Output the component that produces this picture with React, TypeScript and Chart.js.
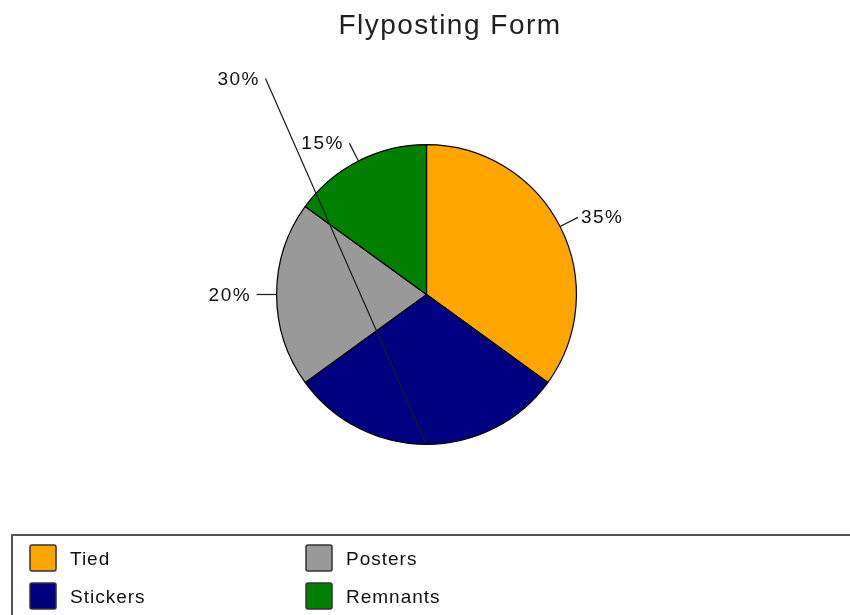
import { useEffect, useRef } from "react";
import { Chart, registerables } from "chart.js";

Chart.register(...registerables);

const chartTitle = "Flyposting Form";
const categories = ["Tied", "Stickers", "Posters", "Remnants"];
const shares = [35, 30, 20, 15];
const sliceColors = ["#FFA500", "#000080", "#999999", "#008000"];

const FONT = '"Liberation Sans", Arial, sans-serif';

// label end points that are not placed radially (relative to pie centre)
const LABEL_OVERRIDES: Record<number, [number, number]> = { 1: [-161, -216] };

function setSpacing(ctx: CanvasRenderingContext2D, px: number) {
  (ctx as any).letterSpacing = px + "px";
}

const decorPlugin = {
  id: "decor",
  afterDatasetsDraw(chart: any) {
    const ctx: CanvasRenderingContext2D = chart.ctx;
    const meta = chart.getDatasetMeta(0);
    const data = chart.data.datasets[0].data as number[];
    const total = data.reduce((a, b) => a + b, 0);
    ctx.save();
    ctx.strokeStyle = "#1a1a1a";
    ctx.lineWidth = 1.2;
    ctx.fillStyle = "#111";
    ctx.font = `19px ${FONT}`;
    setSpacing(ctx, 1.5);
    ctx.textBaseline = "alphabetic";
    meta.data.forEach((arc: any, i: number) => {
      const p = arc.getProps(["x", "y", "startAngle", "endAngle", "outerRadius"], true);
      const mid = (p.startAngle + p.endAngle) / 2;
      const r = p.outerRadius;
      const sx = p.x + Math.cos(mid) * r;
      const sy = p.y + Math.sin(mid) * r;
      let ex: number, ey: number;
      const o = LABEL_OVERRIDES[i];
      if (o) {
        ex = p.x + o[0];
        ey = p.y + o[1];
      } else {
        ex = p.x + Math.cos(mid) * (r + 20);
        ey = p.y + Math.sin(mid) * (r + 20);
      }
      ctx.beginPath();
      ctx.moveTo(sx, sy);
      ctx.lineTo(ex, ey);
      ctx.stroke();
      const txt = Math.round((data[i] / total) * 100) + "%";
      if (ex > p.x) {
        ctx.textAlign = "left";
        ctx.fillText(txt, ex + 3, ey + 6);
      } else {
        ctx.textAlign = "right";
        ctx.fillText(txt, ex - 5.5, ey + 6);
      }
    });
    ctx.restore();
  },
  afterDraw(chart: any) {
    const ctx: CanvasRenderingContext2D = chart.ctx;
    ctx.save();
    // title
    ctx.fillStyle = "#222";
    ctx.font = `28px ${FONT}`;
    setSpacing(ctx, 1.5);
    ctx.textAlign = "center";
    ctx.textBaseline = "alphabetic";
    ctx.fillText(chartTitle, 450, 34);

    // legend box
    setSpacing(ctx, 0);
    ctx.strokeStyle = "#555";
    ctx.lineWidth = 2;
    ctx.strokeRect(12, 535, 900, 200);

    const labels = chart.data.labels as string[];
    const cols = chart.data.datasets[0].backgroundColor as string[];
    ctx.font = `19px ${FONT}`;
    ctx.textAlign = "left";
    labels.forEach((lab, i) => {
      // column-major: Tied, Stickers | Posters, Remnants
      const c = Math.floor(i / 2);
      const rr = i % 2;
      const x = 30 + c * 276;
      const y = 545 + rr * 38;
      ctx.fillStyle = cols[i];
      ctx.strokeStyle = "#333";
      ctx.lineWidth = 1.5;
      setSpacing(ctx, 0);
      ctx.beginPath();
      (ctx as any).roundRect ? (ctx as any).roundRect(x, y, 26, 26, 2) : ctx.rect(x, y, 26, 26);
      ctx.fill();
      ctx.stroke();
      ctx.fillStyle = "#111";
      setSpacing(ctx, 1);
      ctx.fillText(lab, x + 40, y + 20);
    });
    ctx.restore();
  },
};

export default function App() {
  const ref = useRef<HTMLCanvasElement | null>(null);
  useEffect(() => {
    if (!ref.current) return;
    const chart = new Chart(ref.current, {
      type: "pie",
      data: {
        labels: categories,
        datasets: [
          {
            data: shares,
            backgroundColor: sliceColors,
            borderColor: "#000",
            borderWidth: 1.2,
          },
        ],
      },
      options: {
        responsive: false,
        animation: false,
        layout: { padding: { left: 276, right: 273, top: 144, bottom: 170 } },
        plugins: {
          legend: { display: false },
          title: { display: false },
          tooltip: { enabled: false },
        },
      },
      plugins: [decorPlugin],
    });
    return () => chart.destroy();
  }, []);
  return (
    <div style={{ position: "fixed", left: 0, top: 0, width: 850, height: 615, background: "#fff" }}>
      <canvas ref={ref} width={850} height={615} style={{ width: 850, height: 615 }} />
    </div>
  );
}
